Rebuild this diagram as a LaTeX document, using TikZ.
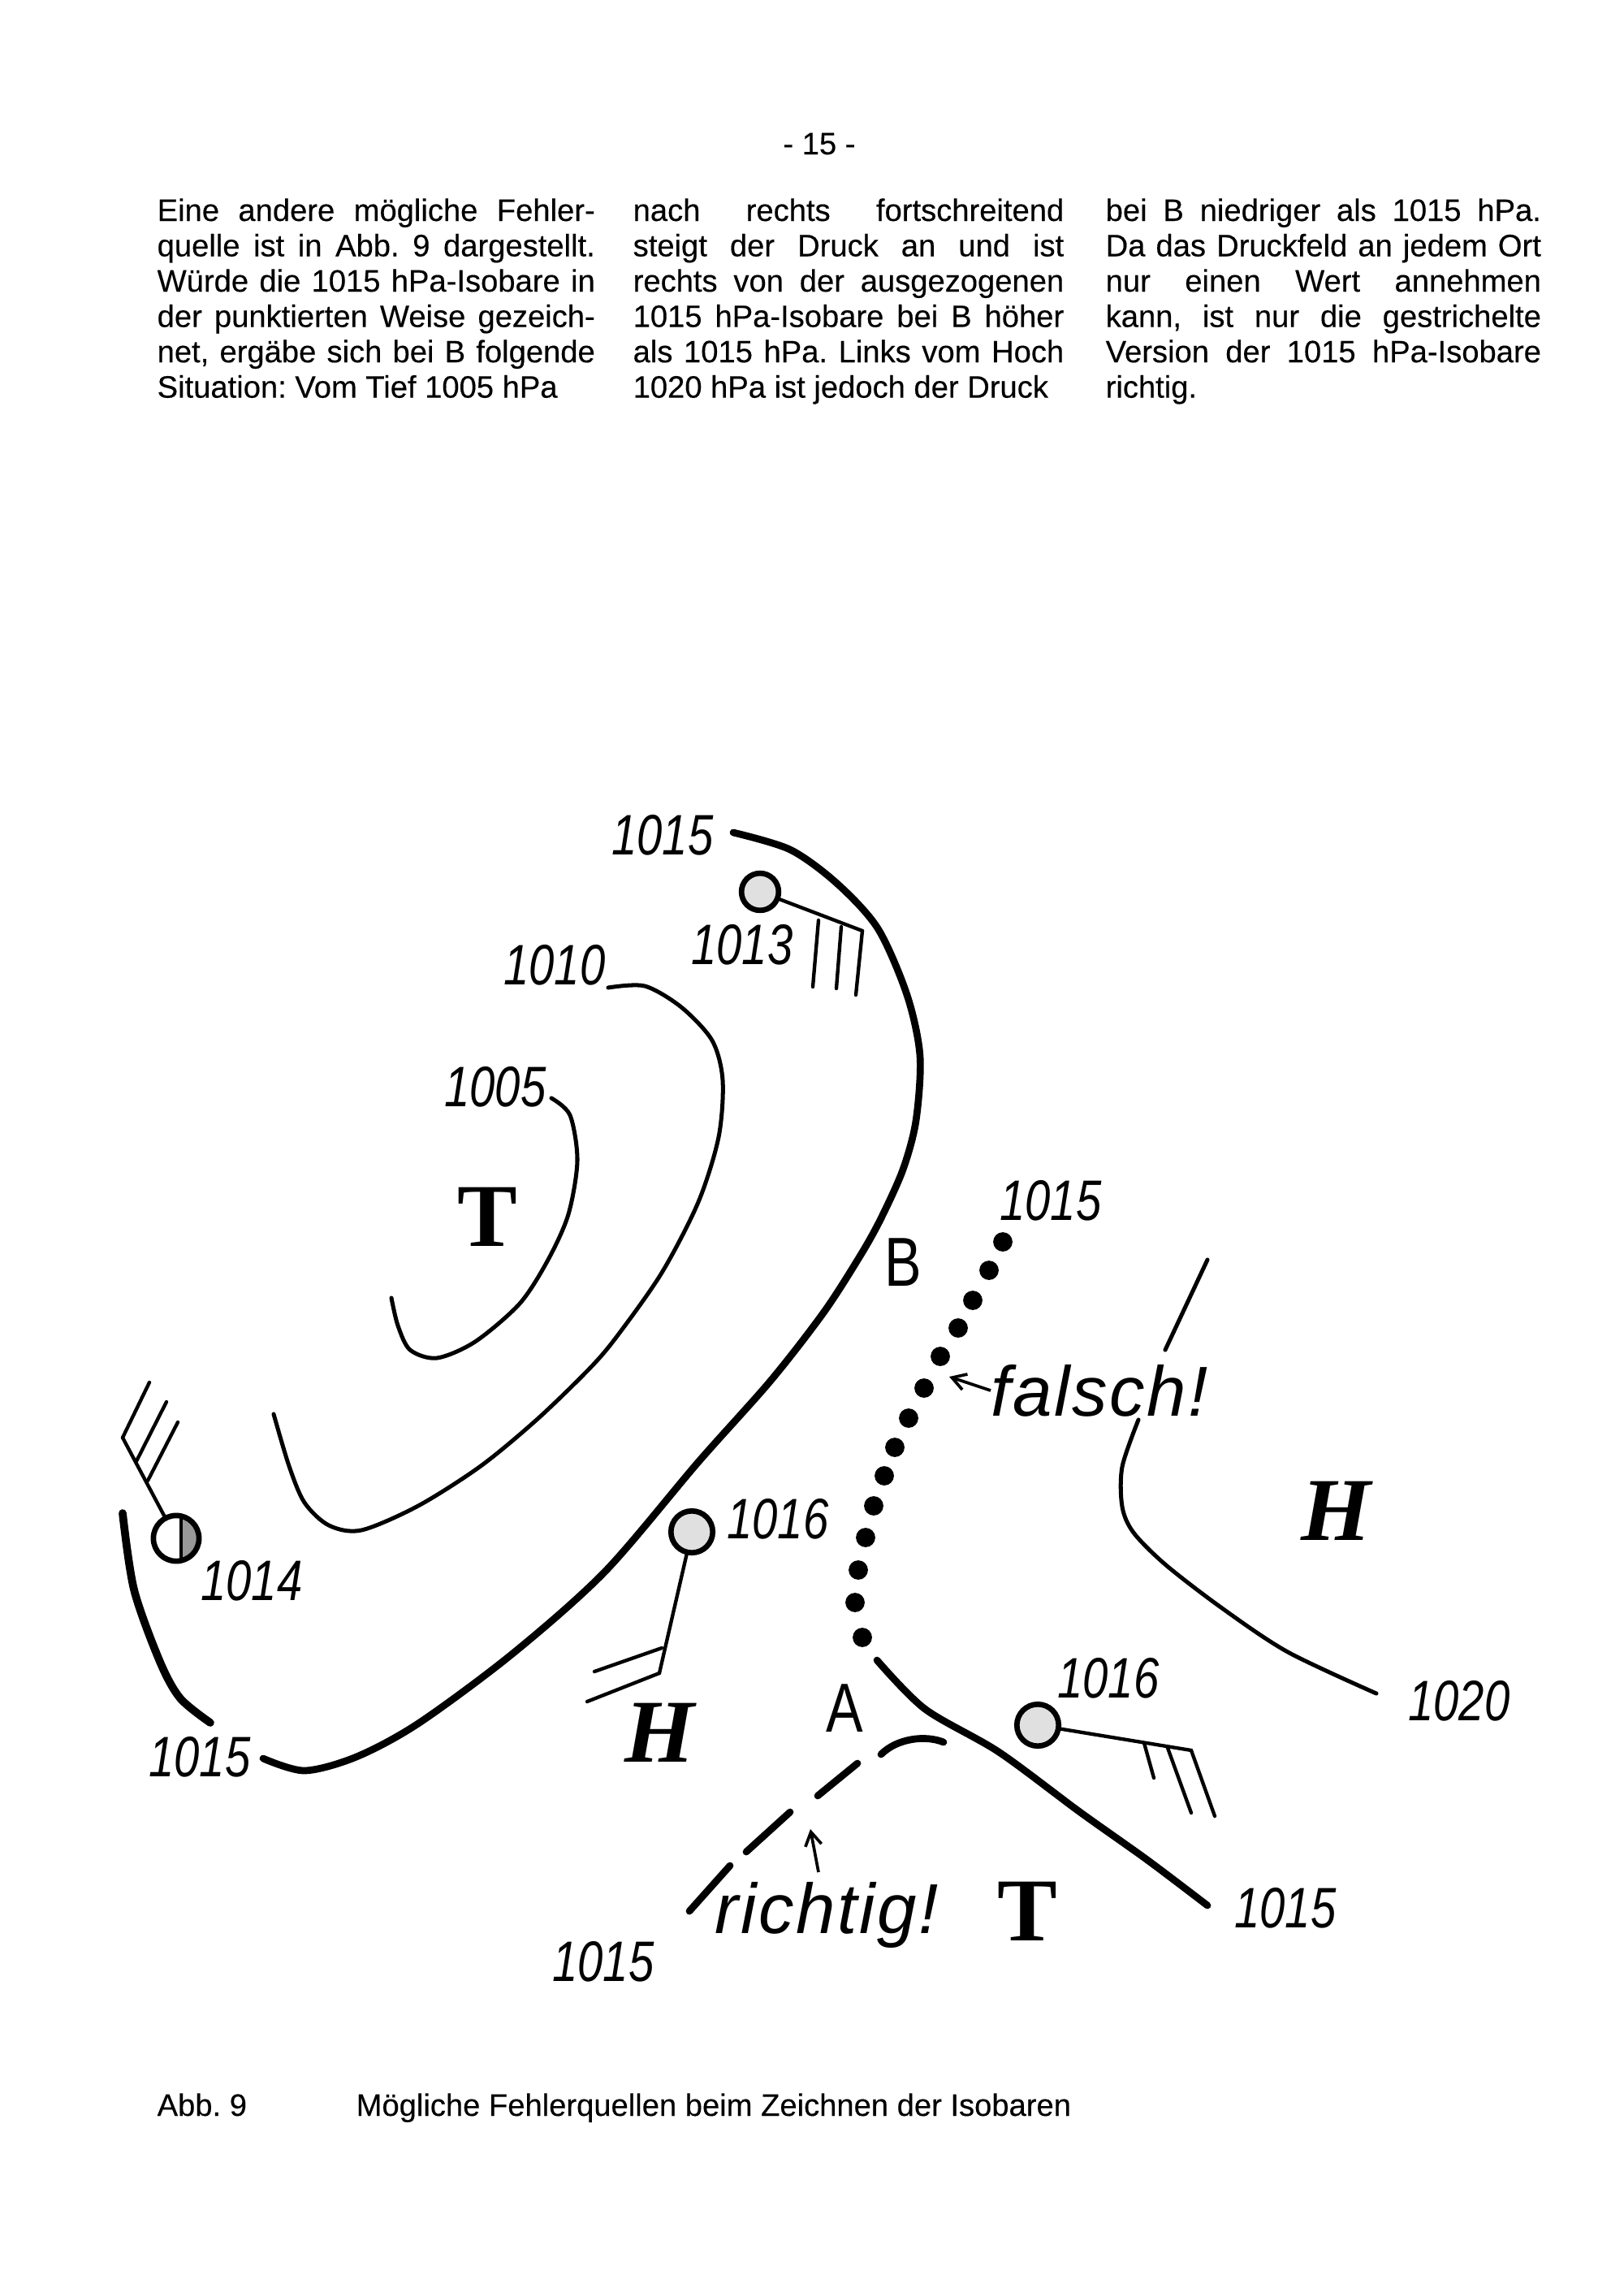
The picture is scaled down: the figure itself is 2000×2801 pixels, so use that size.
\documentclass[tikz,border=0pt]{standalone}
\usepackage{fontspec}
\setmainfont{Liberation Sans}[FakeBold=0.3]
\newfontfamily\stencilfont{Liberation Sans}[FakeStretch=0.8]
\newfontfamily\handfont{Liberation Sans}[LetterSpace=3]
\newfontfamily\mapserif{Liberation Serif}
\usetikzlibrary{arrows.meta}
\frenchspacing
\newlength{\colw}
\newcommand{\colline}[1]{\hbox to \colw{#1}}
\newcommand{\colend}[1]{\hbox to \colw{#1\hfil}}
\tikzstyle{bodytext}=[inner sep=0pt,anchor=base west,font=\fontsize{11.4}{13}\selectfont]
\tikzstyle{isobar}=[draw,line width=1.5pt,line cap=round,line join=round]
\tikzstyle{mainiso}=[isobar,line width=2.6pt]
\tikzstyle{staff}=[draw,line width=1.3pt,line cap=round]
\tikzstyle{station}=[circle,draw,line width=2pt,fill=black!12,inner sep=0pt,minimum size=0.54cm]
\tikzstyle{isodot}=[circle,fill=black,inner sep=0pt,minimum size=0.25cm]
\tikzstyle{isolabel}=[inner sep=0pt,font=\stencilfont\itshape\fontsize{21}{21}\selectfont]
\tikzstyle{pointlabel}=[inner sep=0pt,font=\stencilfont\fontsize{25.5}{25.5}\selectfont]
\tikzstyle{bigletter}=[inner sep=0pt,font=\mapserif\bfseries\fontsize{33}{33}\selectfont]
\tikzstyle{remark}=[inner sep=0pt,font=\handfont\itshape\fontsize{26}{26}\selectfont]
\tikzstyle{pointer}=[draw,line width=1.1pt,-{Straight Barb[length=5pt,width=6pt]}]

\begin{document}
\begin{tikzpicture}[x=0.0105cm,y=-0.0105cm]
    \fill[white] (0,0) rectangle (2000,2801);
    \useasboundingbox (0,0) rectangle (2000,2801);
    % Page number and the three text columns
    \node[bodytext,anchor=base] (pagenum) at (1009,190) {- 15 -};
    \node[bodytext] (col1) at (193,272) {\colw=5.66cm\vtop{%
        \colline{Eine andere mögliche Fehler-}
        \colline{quelle ist in Abb. 9 dargestellt.}
        \colline{Würde die 1015 hPa-Isobare in}
        \colline{der punktierten Weise gezeich-}
        \colline{net, ergäbe sich bei B folgende}
        \colend{Situation: Vom Tief 1005 hPa}}};
    \node[bodytext] (col2) at (779,272) {\colw=5.57cm\vtop{%
        \colline{nach rechts fortschreitend}
        \colline{steigt der Druck an und ist}
        \colline{rechts von der ausgezogenen}
        \colline{1015 hPa-Isobare bei B höher}
        \colline{als 1015 hPa. Links vom Hoch}
        \colend{1020 hPa ist jedoch der Druck}}};
    \node[bodytext] (col3) at (1361,272) {\colw=5.63cm\vtop{%
        \colline{bei B niedriger als 1015 hPa.}
        \colline{Da das Druckfeld an jedem Ort}
        \colline{nur einen Wert annehmen}
        \colline{kann, ist nur die gestrichelte}
        \colline{Version der 1015 hPa-Isobare}
        \colend{richtig.}}};

    % Isobars
    \draw[mainiso] plot[smooth] coordinates {(903,1025) (973,1046) (1030,1087) (1081,1143)
        (1117,1225) (1133,1300) (1128,1380) (1112,1440) (1085,1500) (1060,1545) (1015,1615)
        (949,1700) (860,1800) (745,1935) (630,2037) (515,2122) (439,2163) (375,2180) (324,2165)};
    \draw[isobar] plot[smooth] coordinates {(749,1216) (794,1214) (839,1240) (877,1281)
        (890,1330) (885,1400) (860,1480) (815,1567) (760,1645) (726,1685) (662,1747)
        (592,1805) (515,1854) (445,1884) (405,1878) (375,1850) (356,1805) (337,1741)};
    \draw[isobar] plot[smooth] coordinates {(679,1352) (702,1373) (711,1429) (700,1495)
        (675,1551) (640,1605) (585,1652) (538,1672) (505,1662) (490,1632) (482,1598)};
    \draw[mainiso,line width=2.9pt] plot[smooth] coordinates {(151,1863) (165,1957) (197,2046)
        (222,2091) (259,2121)};
    \draw[isobar] (1487,1551) -- (1435,1662);
    \draw[isobar] plot[smooth] coordinates {(1402,1748) (1382,1806) (1382,1855) (1396,1887)
        (1436,1927) (1505,1980) (1586,2034) (1695,2085)};
    \draw[mainiso] plot[smooth] coordinates {(1080,2044) (1139,2104) (1230,2157) (1330,2231)
        (1413,2290) (1487,2346)};
    % The dashed (right) and dotted (wrong) version
    \draw[mainiso] (1085,2160) .. controls (1105,2140) and (1140,2136) .. (1162,2145);
    \foreach \a/\b in {{(1056,2171)/(1007,2211)}, {(973,2231)/(919,2280)}, {(899,2297)/(849,2353)}}
        \draw[mainiso] \a -- \b;
    \foreach \pos in {(1235,1529), (1218,1564), (1198,1601), (1180,1635), (1158,1670),
        (1138,1709), (1119,1746), (1102,1782), (1089,1817), (1076,1854), (1066,1893),
        (1057,1933), (1053,1973), (1062,2016)}
        \node[isodot] at \pos {};

    % Stations with wind staffs
    \node[station,minimum size=0.48cm] (st1013) at (936,1098) {};
    \node[station] (st1016a) at (852,1886) {};
    \node[station] (st1016b) at (1278,2124) {};
    \begin{scope}
        \clip (217,1894) circle (0.294cm);
        \fill[black!40] (223,1860) rectangle (250,1930);
    \end{scope}
    \node[station,fill=none,minimum size=0.59cm] (st1014) at (217,1894) {};
    \draw[staff] (223,1867) -- (223,1921);
    \coordinate (s1013) at (1062,1146);
    \coordinate (s1014) at (151,1770);
    \coordinate (s1016a) at (812,2060);
    \coordinate (s1016b) at (1467,2155);
    \foreach \st/\tip in {st1013/s1013, st1014/s1014, st1016a/s1016a, st1016b/s1016b}
        \draw[staff] (\st) -- (\tip);
    \foreach \a/\b in {{(1008,1133)/(1001,1215)}, {(1036,1141)/(1030,1217)}, {(1062,1146)/(1054,1225)},
        {(151,1770)/(184,1702)}, {(168,1799)/(205,1726)}, {(182,1823)/(219,1751)},
        {(815,2029)/(732,2058)}, {(812,2060)/(723,2095)},
        {(1409,2146)/(1421,2189)}, {(1438,2152)/(1467,2232)}, {(1467,2155)/(1496,2236)}}
        \draw[staff] \a -- \b;

    % Pressure values
    \foreach \pos/\name/\val in {{(816,1028)/top1015/1015}, {(914,1163)/l1013/1013},
        {(683,1188)/l1010/1010}, {(610,1338)/l1005/1005}, {(1294,1478)/dot1015/1015},
        {(310,1946)/l1014/1014}, {(246,2163)/left1015/1015}, {(958,1870)/l1016a/1016},
        {(1365,2066)/l1016b/1016}, {(1797,2094)/l1020/1020}, {(1583,2349)/right1015/1015},
        {(743,2415)/low1015/1015}}
        \node[isolabel] (\name) at \pos {\val};

    % Lows, highs and points
    \node[bigletter] (tief1) at (600,1498) {T};
    \node[bigletter] (tief2) at (1265,2353) {T};
    \node[bigletter,font=\mapserif\bfseries\itshape\fontsize{33}{33}\selectfont] (hoch1) at (812,2133) {H};
    \node[bigletter,font=\mapserif\bfseries\itshape\fontsize{33}{33}\selectfont] (hoch2) at (1645,1860) {H};
    \node[pointlabel] (ptB) at (1112,1554) {B};
    \node[pointlabel] (ptA) at (1040,2103) {A};

    % Remarks
    \node[remark,anchor=west] (falsch) at (1220,1712) {falsch!};
    \node[remark] (richtig) at (1018,2358) {richtig!};
    \draw[pointer] (falsch.west) -- (1169,1695);
    \coordinate (rbase) at (1008,2305);
    \draw[pointer] (rbase) -- (998,2252);

    % Caption
    \node[bodytext] (abb) at (193,2605) {Abb. 9};
    \node[bodytext] (caption) at (438,2605) {Mögliche Fehlerquellen beim Zeichnen der Isobaren};
\end{tikzpicture}
\end{document}
